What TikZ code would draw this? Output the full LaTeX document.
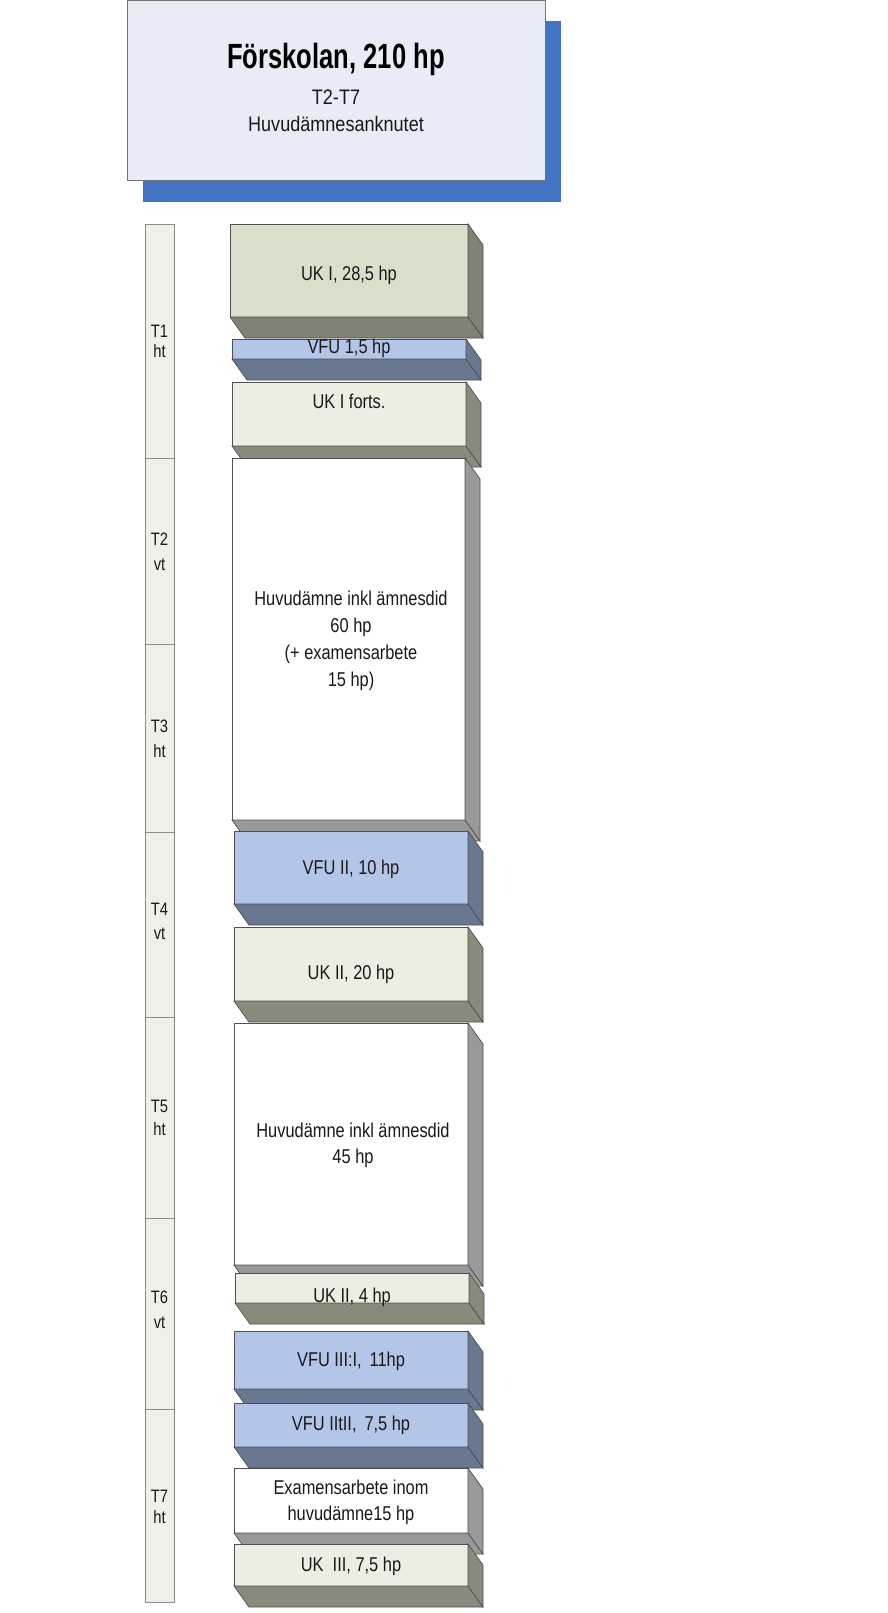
\documentclass[tikz,border=0pt]{standalone}
\usepackage{fontspec}
\setmainfont{Liberation Sans}[FakeStretch=0.82]
\newfontfamily\titlefont{Liberation Sans}[FakeStretch=0.73]
\newfontfamily\subfont{Liberation Sans}[FakeStretch=0.86]
\definecolor{hdrfront}{RGB}{231,236,247}
\definecolor{hdrshadow}{RGB}{68,114,196}
\definecolor{colfill}{RGB}{238,241,228}
\definecolor{edge}{RGB}{80,80,80}
\definecolor{ukdf}{RGB}{216,223,202}
\definecolor{ukds}{RGB}{128,131,115}
\definecolor{uklf}{RGB}{235,238,224}
\definecolor{ukls}{RGB}{136,139,124}
\definecolor{vfuf}{RGB}{180,198,231}
\definecolor{vfus}{RGB}{106,119,145}
\definecolor{whtf}{RGB}{255,255,255}
\definecolor{whts}{RGB}{153,153,153}
\tikzset{
  front/.style={draw=edge,line width=0.7pt,inner sep=0pt,outer sep=0pt,rectangle},
  ukdF/.style={front,fill=ukdf}, ukdS/.style={draw=edge,line width=0.7pt,fill=ukds},
  uklF/.style={front,fill=uklf}, uklS/.style={draw=edge,line width=0.7pt,fill=ukls},
  vfuF/.style={front,fill=vfuf}, vfuS/.style={draw=edge,line width=0.7pt,fill=vfus},
  whtF/.style={front,fill=whtf}, whtS/.style={draw=edge,line width=0.7pt,fill=whts},
  txt/.style={inner sep=0pt,anchor=base,font=\fontsize{20}{27}\selectfont,text=black!90},
  lbl/.style={inner sep=0pt,anchor=base,font=\fontsize{18}{24}\selectfont,text=black!90},
  seg/.style={draw=black!45,line width=0.7pt,fill=colfill,inner sep=0pt,outer sep=0pt,
    minimum width=29pt,anchor=north west},
}
% #1 name, #2 x1, #3 y1, #4 x2, #5 y2, #6 style prefix
\newcommand\blok[6]{%
  \node[#6F,minimum width={#4-#2},minimum height={#5-#3},anchor=north west] (#1) at (#2,#3) {};
  \filldraw[#6S] (#1.south west) -- ++(15,21) -- ([shift={(15,21)}]#1.south east) -- (#1.south east) -- cycle;
  \filldraw[#6S] (#1.north east) -- ++(15,21) -- ([shift={(15,21)}]#1.south east) -- (#1.south east) -- cycle;
}
\begin{document}
\begin{tikzpicture}[x=1pt,y=-1pt]
\useasboundingbox (0,0) rectangle (887,1613);
\fill[white] (0,0) rectangle (887,1613);

% header
\fill[hdrshadow] (143,21) rectangle (561,202);
\node[draw=black!55,line width=0.8pt,fill=hdrfront,minimum width=418pt,minimum height=180pt,
  anchor=north west,inner sep=0pt] (hdr) at (127,0.5) {};
\node[inner sep=0pt,anchor=base,font=\titlefont\bfseries\fontsize{35}{40}\selectfont] (title) at (336,69) {Förskolan, 210 hp};
\node[inner sep=0pt,anchor=base,font=\subfont\fontsize{21}{26}\selectfont,text=black!90] (sub1) at (336,105) {T2-T7};
\node[inner sep=0pt,anchor=base,font=\subfont\fontsize{21}{26}\selectfont,text=black!90] (sub2) at (336,132) {Huvudämnesanknutet};

% left column
\node[seg,minimum height=234pt] (s1) at (145,224) {};
\node[seg,minimum height=186pt] (s2) at (145,458) {};
\node[seg,minimum height=188pt] (s3) at (145,644) {};
\node[seg,minimum height=185pt] (s4) at (145,832) {};
\node[seg,minimum height=201pt] (s5) at (145,1017) {};
\node[seg,minimum height=191pt] (s6) at (145,1218) {};
\node[seg,minimum height=193pt] (s7) at (145,1409) {};
\node[lbl] (l1a) at (159.5,337) {T1};  \node[lbl] (l1b) at (159.5,357) {ht};
\node[lbl] (l2a) at (159.5,545) {T2};  \node[lbl] (l2b) at (159.5,570) {vt};
\node[lbl] (l3a) at (159.5,732) {T3};  \node[lbl] (l3b) at (159.5,757) {ht};
\node[lbl] (l4a) at (159.5,915) {T4};  \node[lbl] (l4b) at (159.5,939) {vt};
\node[lbl] (l5a) at (159.5,1112) {T5}; \node[lbl] (l5b) at (159.5,1135) {ht};
\node[lbl] (l6a) at (159.5,1303) {T6}; \node[lbl] (l6b) at (159.5,1328) {vt};
\node[lbl] (l7a) at (159.5,1502) {T7}; \node[lbl] (l7b) at (159.5,1523) {ht};

% blocks
\blok{b1}{230}{224}{468}{317}{ukd}
\node[txt] (t1) at (349,280) {UK I, 28,5 hp};
\blok{b2}{232}{339}{466}{359}{vfu}
\node[txt] (t2) at (349,353) {VFU 1,5 hp};
\blok{b3}{232}{382}{466}{446}{ukl}
\node[txt] (t3) at (349,408) {UK I forts.};
\blok{b4}{232}{458}{465}{820}{wht}
\node[txt] (t4a) at (351,605) {Huvudämne inkl ämnesdid};
\node[txt] (t4b) at (351,632) {60 hp};
\node[txt] (t4c) at (351,659) {(+ examensarbete};
\node[txt] (t4d) at (351,686) {15 hp)};
\blok{b5}{234}{831}{468}{904}{vfu}
\node[txt] (t5) at (351,874) {VFU II, 10 hp};
\blok{b6}{234}{927}{468}{1001}{ukl}
\node[txt] (t6) at (351,979) {UK II, 20 hp};
\blok{b7}{234}{1023}{468}{1265}{wht}
\node[txt] (t7a) at (353,1137) {Huvudämne inkl ämnesdid};
\node[txt] (t7b) at (353,1163) {45 hp};
\blok{b8}{235}{1273}{469}{1303}{ukl}
\node[txt] (t8) at (352,1302) {UK II, 4 hp};
\blok{b9}{234}{1331}{468}{1389}{vfu}
\node[txt] (t9) at (351,1366) {VFU III:I,\ \,11hp};
\blok{b10}{234}{1403}{468}{1447}{vfu}
\node[txt] (t10) at (351,1430) {VFU IItII,\ \,7,5 hp};
\blok{b11}{234}{1468}{468}{1533}{wht}
\node[txt] (t11a) at (351,1494) {Examensarbete inom};
\node[txt] (t11b) at (351,1520) {huvudämne15 hp};
\blok{b12}{234}{1544}{468}{1586}{ukl}
\node[txt] (t12) at (351,1571) {UK\ \ III, 7,5 hp};
\end{tikzpicture}
\end{document}
